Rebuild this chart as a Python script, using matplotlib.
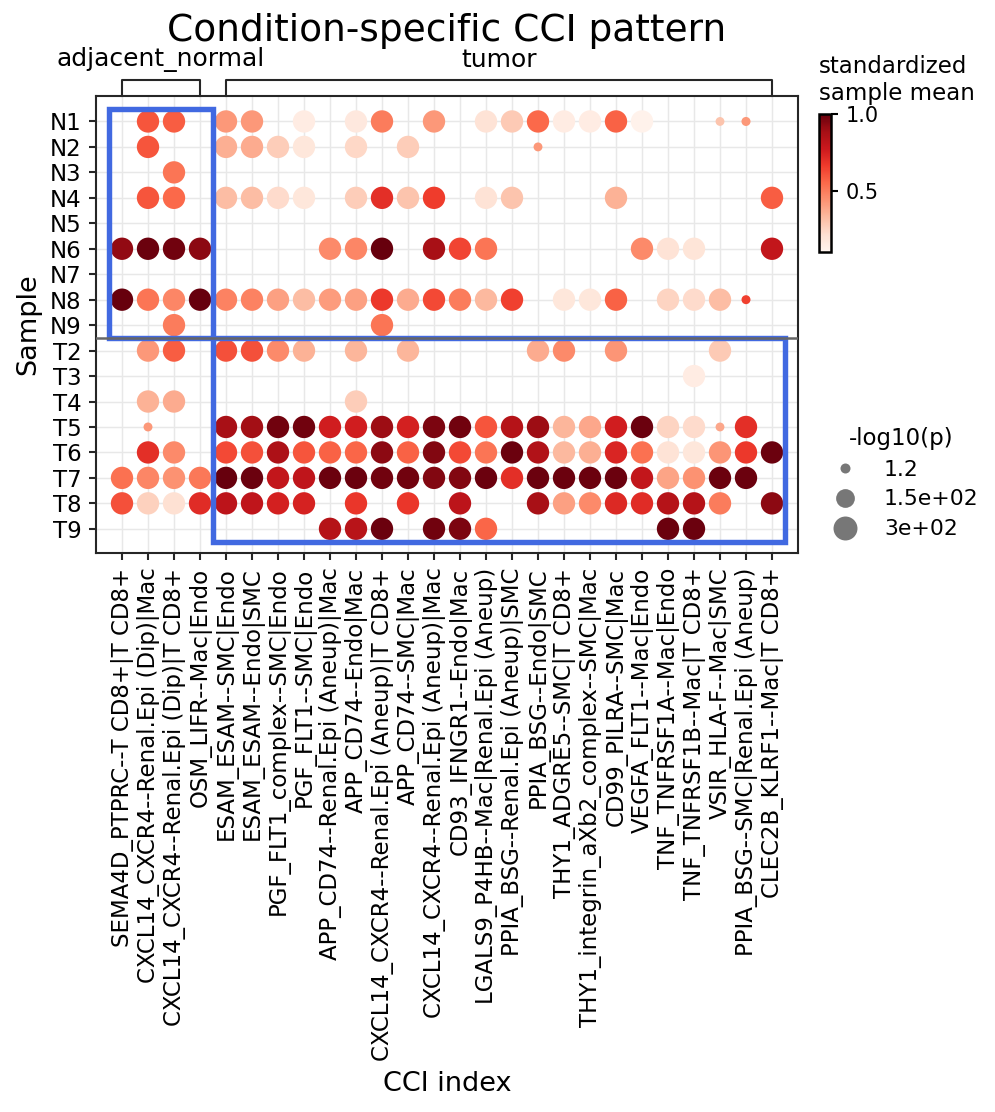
import numpy as np
import matplotlib
matplotlib.use("Agg")
import matplotlib.pyplot as plt
import matplotlib.transforms as mtransforms
from matplotlib.patches import Rectangle
from matplotlib.lines import Line2D

na = np.nan

samples = ["N1", "N2", "N3", "N4", "N5", "N6", "N7", "N8", "N9",
           "T2", "T3", "T4", "T5", "T6", "T7", "T8", "T9"]

cci = [
    "SEMA4D_PTPRC--T CD8+|T CD8+",
    "CXCL14_CXCR4--Renal.Epi (Dip)|Mac",
    "CXCL14_CXCR4--Renal.Epi (Dip)|T CD8+",
    "OSM_LIFR--Mac|Endo",
    "ESAM_ESAM--SMC|Endo",
    "ESAM_ESAM--Endo|SMC",
    "PGF_FLT1_complex--SMC|Endo",
    "PGF_FLT1--SMC|Endo",
    "APP_CD74--Renal.Epi (Aneup)|Mac",
    "APP_CD74--Endo|Mac",
    "CXCL14_CXCR4--Renal.Epi (Aneup)|T CD8+",
    "APP_CD74--SMC|Mac",
    "CXCL14_CXCR4--Renal.Epi (Aneup)|Mac",
    "CD93_IFNGR1--Endo|Mac",
    "LGALS9_P4HB--Mac|Renal.Epi (Aneup)",
    "PPIA_BSG--Renal.Epi (Aneup)|SMC",
    "PPIA_BSG--Endo|SMC",
    "THY1_ADGRE5--SMC|T CD8+",
    "THY1_integrin_aXb2_complex--SMC|Mac",
    "CD99_PILRA--SMC|Mac",
    "VEGFA_FLT1--Mac|Endo",
    "TNF_TNFRSF1A--Mac|Endo",
    "TNF_TNFRSF1B--Mac|T CD8+",
    "VSIR_HLA-F--Mac|SMC",
    "PPIA_BSG--SMC|Renal.Epi (Aneup)",
    "CLEC2B_KLRF1--Mac|T CD8+",
]

# condition groups over the CCI columns (first, last index)
groups = [("adjacent_normal", 0, 3), ("tumor", 4, 25)]

# standardized sample mean, one row per sample (nan = not shown)
mean_rows = [
    [na, .60, .58, na, .42, .42, na, .15, na, .17, .50, na, .42, na, .20, .28, .55, .15, .15, .57, .12, na, na, .30, .42, na],
    [na, .60, na, na, .36, .37, .27, .18, na, .24, na, .27, na, na, na, na, .42, na, na, na, na, na, na, na, na, na],
    [na, na, .52, na, na, na, na, na, na, na, na, na, na, na, na, na, na, na, na, na, na, na, na, na, na, na],
    [na, .60, .55, na, .32, .32, .23, .18, na, .27, .70, .30, .66, na, .20, .30, na, na, na, .35, na, na, na, na, na, .58],
    [na, na, na, na, na, na, na, na, na, na, na, na, na, na, na, na, na, na, na, na, na, na, na, na, na, na],
    [.92, .99, .98, .93, na, na, na, na, .46, .47, 1.0, na, .88, .64, .52, na, na, na, na, na, .46, .20, .19, na, na, .80],
    [na, na, na, na, na, na, na, na, na, na, na, na, na, na, na, na, na, na, na, na, na, na, na, na, na, na],
    [1.0, .52, .47, 1.0, .48, .48, .40, .32, .41, .40, .67, .37, .63, .50, .33, .65, na, .18, .18, .57, na, .25, .23, .32, .65, na],
    [na, na, .50, na, na, na, na, na, na, na, .52, na, na, na, na, na, na, na, na, na, na, na, na, na, na, na],
    [na, .42, .58, na, .61, .61, .46, .35, na, .34, na, .34, na, na, na, na, .37, .46, na, .43, na, na, na, .28, na, na],
    [na, na, na, na, na, na, na, na, na, na, na, na, na, na, na, na, na, na, na, na, na, na, .15, na, na, na],
    [na, .35, .37, na, na, na, na, na, na, .27, na, na, na, na, na, na, na, na, na, na, na, na, na, na, na, na],
    [na, .42, na, na, .88, .89, .98, .98, .76, .76, .90, .75, .96, .98, .60, .84, .90, .34, .38, .76, .99, .25, .23, .38, .70, na],
    [na, .70, .46, na, .63, .61, .86, .60, .57, .56, .93, .57, .95, .63, .52, .99, .85, .33, .36, .73, .53, .20, .18, .43, .67, .99],
    [.53, .47, .44, .51, 1.0, .99, .80, .81, .99, .99, .98, .98, .95, .95, .99, .70, .99, .99, .99, .99, .80, .39, .44, .99, .99, na],
    [.61, .26, .21, .71, .82, .81, .75, .74, na, .68, na, .68, na, .82, na, na, .88, .40, .46, .72, .71, .84, .84, .50, na, .93],
    [na, na, na, na, na, na, na, na, .84, .83, .99, na, .98, .96, .56, na, na, na, na, na, na, .99, .99, na, na, na],
]

# -log10(p): nearly all dots sit at the top value, a few are weak
neglogp_top = 300.0
neglogp_weak = {
    ("N1", 23): 1.2,
    ("N1", 24): 4.0,
    ("N2", 16): 2.0,
    ("N8", 24): 3.0,
    ("T5", 1): 2.5,
    ("T5", 23): 1.5,
}
legend_vals = [1.2, 150.0, 300.0]
legend_ms = [4.8, 9.0, 11.5]   # marker diameters in the size legend (pt)

s_min, s_max = 18, 115
p_lo, p_hi = 1.2, 300.0


def dot_size(v):
    return s_min + (v - p_lo) / (p_hi - p_lo) * (s_max - s_min)


xs, ys, cs, ss = [], [], [], []
for i, row in enumerate(mean_rows):
    for j, m in enumerate(row):
        if np.isnan(m):
            continue
        p = neglogp_weak.get((samples[i], j), neglogp_top)
        xs.append(j)
        ys.append(i)
        cs.append(m)
        ss.append(dot_size(p))

fig = plt.figure(figsize=(995 / 150, 1112 / 150), dpi=150)
ax = fig.add_axes([96 / 995, 1 - 553 / 1112, (798 - 96) / 995, (553 - 96) / 1112])

sc = ax.scatter(xs, ys, c=cs, s=ss, cmap="Reds", vmin=0.1, vmax=1.0,
                linewidths=0, zorder=3)

ax.set_xlim(-1, 26)
ax.set_ylim(16.95, -1.0)
ax.set_xticks(range(len(cci)))
ax.set_xticklabels(cci, rotation=90, fontsize=11)
ax.set_yticks(range(len(samples)))
ax.set_yticklabels(samples, fontsize=11)
ax.tick_params(length=3.5, width=1, color="#262626")
ax.grid(True, color="#e8e8e8", lw=0.7)
ax.set_axisbelow(True)
for sp in ax.spines.values():
    sp.set_color("#262626")
    sp.set_linewidth(1.0)

ax.set_xlabel("CCI index", fontsize=13, labelpad=5)
ax.set_ylabel("Sample", fontsize=13)

# highlight boxes and the N/T separator
ax.add_patch(Rectangle((-0.5, -0.5), 4, 9, fill=False, ec="royalblue", lw=2.6, zorder=5))
ax.add_patch(Rectangle((3.5, 8.5), 22, 8, fill=False, ec="royalblue", lw=2.6, zorder=5))
ax.axhline(8.5, color="#666666", lw=1.2, zorder=6)

# condition brackets above the axes
trans = mtransforms.blended_transform_factory(ax.transData, ax.transAxes)
yb = 1 + 16 / 457
for name, x0, x1 in groups:
    ax.plot([x0, x0, x1, x1], [1.0, yb, yb, 1.0], transform=trans,
            clip_on=False, color="#262626", lw=1.0)
    ax.text((x0 + x1) / 2, 1 + 36 / 457, name, transform=trans,
            ha="center", va="center", fontsize=12)

fig.text(447 / 995, 1 - 31 / 1112, "Condition-specific CCI pattern",
         ha="center", va="center", fontsize=18)

# colorbar
cax = fig.add_axes([819 / 995, 1 - 252 / 1112, 12 / 995, 138 / 1112])
cb = fig.colorbar(sc, cax=cax, ticks=[0.5, 1.0])
cb.ax.tick_params(labelsize=10, length=3.5, width=1)
cb.outline.set_linewidth(1.2)
fig.text(819 / 995, 1 - 105 / 1112, "standardized\nsample mean",
         ha="left", va="bottom", fontsize=11)

# size legend
handles = [Line2D([], [], ls="none", marker="o", ms=ms, color="#777777", mew=0)
           for ms in legend_ms]
labels = [f"{v:.2g}" for v in legend_vals]
fig.legend(handles, labels, title="-log10(p)", loc="upper left",
           bbox_to_anchor=(803 / 995, 1 - 407 / 1112), frameon=False,
           fontsize=10.5, title_fontsize=11, labelspacing=0.45,
           handlelength=2.0, handletextpad=0.8)

fig.savefig("out.png", dpi=150)
